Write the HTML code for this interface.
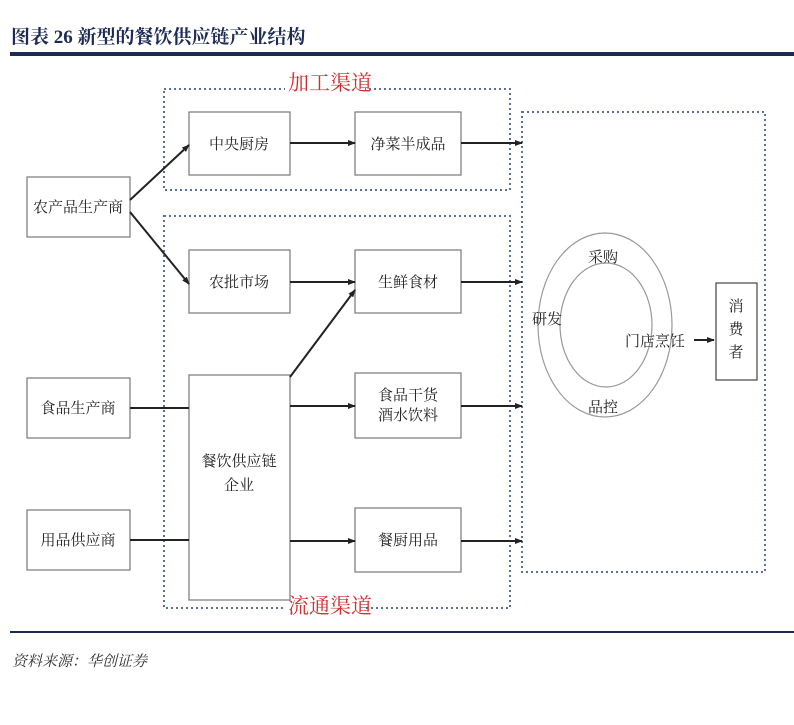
<!DOCTYPE html>
<html><head><meta charset="utf-8"><style>
body{margin:0;background:#fff;width:794px;height:720px;overflow:hidden;font-family:"Liberation Serif","Noto Serif CJK SC",serif;}
</style></head><body>
<svg width="794" height="720" xmlns="http://www.w3.org/2000/svg" font-family="Liberation Serif, Noto Serif CJK SC, serif">
<defs><marker id="a" markerWidth="8" markerHeight="8" refX="7" refY="4" orient="auto" markerUnits="userSpaceOnUse"><path d="M0,1 L8,4 L0,7z" fill="#222"/></marker></defs>
<text x="11" y="43" font-size="19" font-weight="bold" fill="#1c2a55" font-family="Liberation Serif, Noto Serif CJK SC, serif">图表 26  新型的餐饮供应链产业结构</text>
<rect x="10" y="52" width="784" height="4" fill="#1c2a55"/>
<g fill="none" stroke="#5a6f98" stroke-width="2" stroke-dasharray="2,3">
<rect x="164" y="89" width="346" height="101"/>
<rect x="164" y="216" width="346" height="392"/>
<rect x="522" y="112" width="243" height="460"/>
</g>
<rect x="285" y="68" width="80" height="28" fill="#fff"/>
<text x="288" y="90" font-size="21" fill="#d03030">加工渠道</text>
<rect x="285" y="592" width="80" height="26" fill="#fff"/>
<text x="288" y="613" font-size="21" fill="#d03030">流通渠道</text>
<g fill="#fff" stroke="#777" stroke-width="1.2">
<rect x="27" y="177" width="103" height="60"/>
<rect x="189" y="112" width="101" height="63"/>
<rect x="355" y="112" width="106" height="63"/>
<rect x="189" y="250" width="101" height="63"/>
<rect x="355" y="250" width="106" height="63"/>
<rect x="355" y="373" width="106" height="65"/>
<rect x="189" y="375" width="101" height="225"/>
<rect x="355" y="508" width="106" height="64"/>
<rect x="27" y="378" width="103" height="60"/>
<rect x="27" y="510" width="103" height="60"/>
<rect x="716" y="283" width="41" height="97" stroke="#444"/>
</g>
<g font-size="15" fill="#222" text-anchor="middle">
<text x="78" y="212">农产品生产商</text>
<text x="239" y="149">中央厨房</text>
<text x="408" y="149">净菜半成品</text>
<text x="239" y="287">农批市场</text>
<text x="408" y="287">生鲜食材</text>
<text x="408" y="400">食品干货</text>
<text x="408" y="420">酒水饮料</text>
<text x="239" y="466">餐饮供应链</text>
<text x="239" y="490">企业</text>
<text x="408" y="545">餐厨用品</text>
<text x="78" y="413">食品生产商</text>
<text x="78" y="545">用品供应商</text>
<text x="736" y="311">消</text>
<text x="736" y="334">费</text>
<text x="736" y="357">者</text>
</g>
<g stroke="#222" stroke-width="2" fill="none" marker-end="url(#a)">
<line x1="130" y1="200" x2="189" y2="145"/>
<line x1="130" y1="212" x2="189" y2="284"/>
<line x1="290" y1="143" x2="355" y2="143"/>
<line x1="290" y1="282" x2="355" y2="282"/>
<line x1="290" y1="377" x2="355" y2="290"/>
<line x1="290" y1="406" x2="355" y2="406"/>
<line x1="290" y1="541" x2="355" y2="541"/>
<line x1="461" y1="143" x2="522" y2="143"/>
<line x1="461" y1="282" x2="522" y2="282"/>
<line x1="461" y1="406" x2="522" y2="406"/>
<line x1="461" y1="541" x2="522" y2="541"/>
<line x1="694" y1="340" x2="714" y2="340"/>
</g>
<line x1="130" y1="408" x2="189" y2="408" stroke="#222" stroke-width="2"/>
<line x1="130" y1="540" x2="189" y2="540" stroke="#222" stroke-width="2"/>
<g fill="none" stroke="#999" stroke-width="1.2">
<ellipse cx="605" cy="325" rx="67" ry="92"/>
<ellipse cx="606" cy="325" rx="46" ry="62"/>
</g>
<g font-size="15" fill="#222" text-anchor="middle">
<text x="603" y="262">采购</text>
<text x="547" y="324">研发</text>
<text x="655" y="346">门店烹饪</text>
<text x="603" y="412">品控</text>
</g>
<rect x="10" y="631" width="784" height="2" fill="#1c2a55"/>
<text x="12" y="666" font-size="15" font-style="italic" fill="#333">资料来源：华创证券</text>
</svg>
</body></html>
